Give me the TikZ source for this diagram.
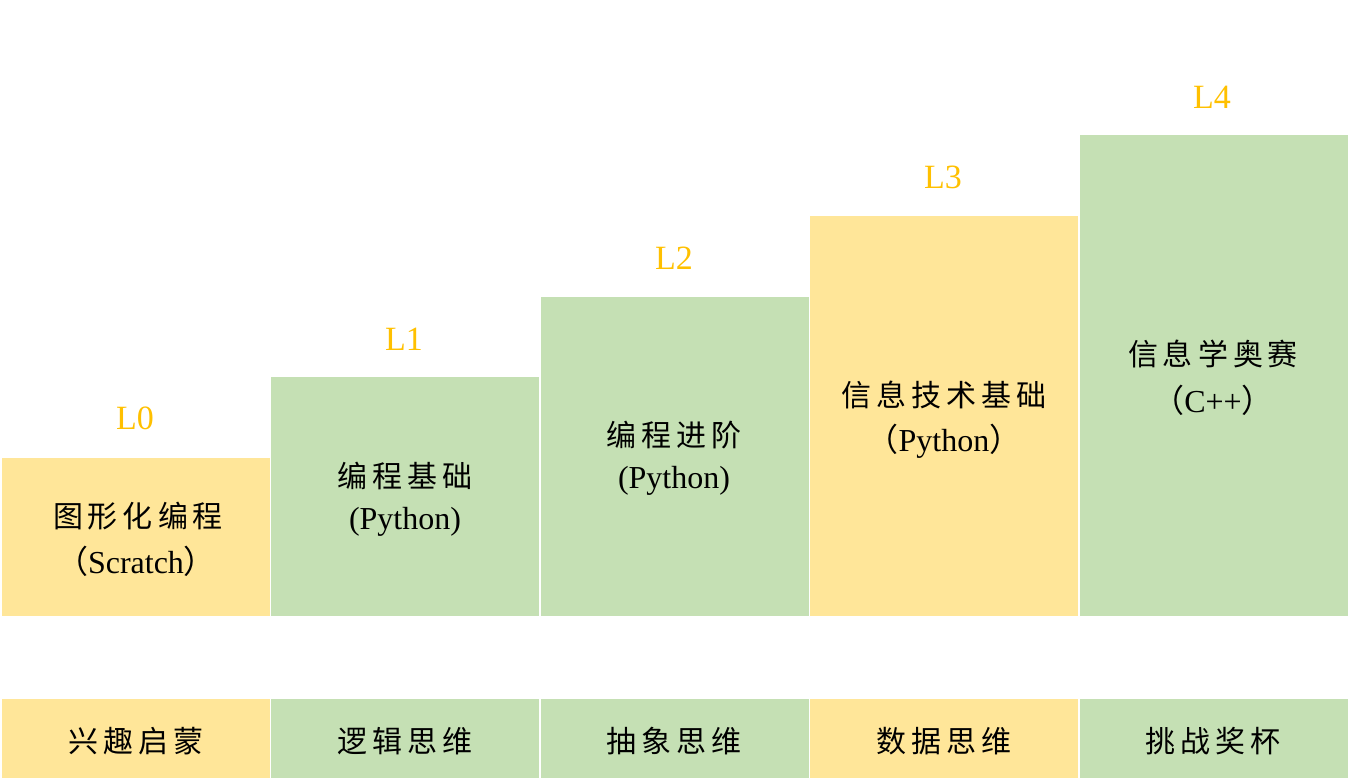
\documentclass[tikz,border=0pt]{standalone}
\usepackage{fontspec}
\setmainfont{Liberation Serif}
\newfontfamily\cjk{Noto Sans CJK SC}
\definecolor{barY}{HTML}{FFE699}
\definecolor{barG}{HTML}{C5E0B4}
\definecolor{lvl}{HTML}{FFC000}
\def\spacedloop#1#2{#1\ifx\relax#2\else\hspace{5pt}\expandafter\spacedloop\expandafter#2\fi}
\newcommand\cjksp[1]{{\cjk\spacedloop#1\relax}}
\begin{document}
\begin{tikzpicture}[x=1pt,y=-1pt,
  bar/.style={inner sep=0pt, outer sep=0pt, anchor=south west, minimum width=267.5pt},
  zh/.style={inner sep=0pt, font=\fontsize{30}{36}\selectfont},
  en/.style={inner sep=0pt, font=\fontsize{32}{38}\selectfont},
  lv/.style={inner sep=0pt, text=lvl, font=\fontsize{34}{40}\selectfont}]
\useasboundingbox (0,0) rectangle (1350,781);
% upper bars
\node[bar, fill=barY, minimum height=158pt] (b0) at (2,616) {};
\node[bar, fill=barG, minimum height=239pt] (b1) at (271,616) {};
\node[bar, fill=barG, minimum height=319pt] (b2) at (541,616) {};
\node[bar, fill=barY, minimum height=400pt] (b3) at (810,616) {};
\node[bar, fill=barG, minimum height=481pt] (b4) at (1080,616) {};
% bottom row
\node[bar, fill=barY, minimum height=79pt] (c0) at (2,778) {};
\node[bar, fill=barG, minimum height=79pt] (c1) at (271,778) {};
\node[bar, fill=barG, minimum height=79pt] (c2) at (541,778) {};
\node[bar, fill=barY, minimum height=79pt] (c3) at (810,778) {};
\node[bar, fill=barG, minimum height=79pt] (c4) at (1080,778) {};
% level labels
\node[lv] (l0) at (135,418) {L0};
\node[lv] (l1) at (404,339) {L1};
\node[lv] (l2) at (674,258) {L2};
\node[lv] (l3) at (943,177) {L3};
\node[lv] (l4) at (1212,97) {L4};
% bar texts
\node[zh] (t0a) at (138,516) {\cjksp{图形化编程}};
\node[en] (t0b) at (136,561) {{\cjk （}Scratch{\cjk ）}};
\node[zh] (t1a) at (405,476) {\cjksp{编程基础}};
\node[en] (t1b) at (405,522) {(Python)};
\node[zh] (t2a) at (674,435) {\cjksp{编程进阶}};
\node[en] (t2b) at (674,481) {(Python)};
\node[zh] (t3a) at (944,395) {\cjksp{信息技术基础}};
\node[en] (t3b) at (944,441) {{\cjk （}Python{\cjk ）}};
\node[zh] (t4a) at (1213,354) {\cjksp{信息学奥赛}};
\node[en] (t4b) at (1213,400) {{\cjk （}C++{\cjk ）}};
% bottom texts
\node[zh] (u0) at (136,741) {\cjksp{兴趣启蒙}};
\node[zh] (u1) at (405,741) {\cjksp{逻辑思维}};
\node[zh] (u2) at (674,741) {\cjksp{抽象思维}};
\node[zh] (u3) at (944,741) {\cjksp{数据思维}};
\node[zh] (u4) at (1213,741) {\cjksp{挑战奖杯}};
\end{tikzpicture}
\end{document}
